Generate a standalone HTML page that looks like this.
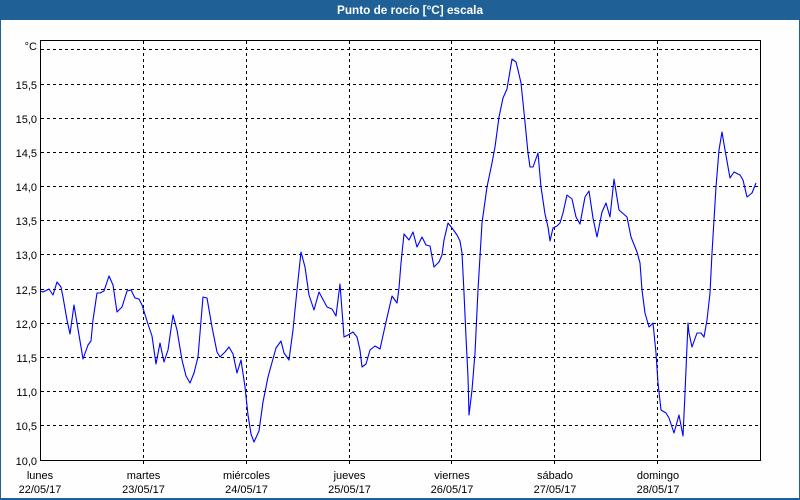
<!DOCTYPE html>
<html>
<head>
<meta charset="utf-8">
<style>
html,body{margin:0;padding:0;background:#fdfefd;}
svg{display:block;}
text{font-family:"Liberation Sans",sans-serif;}
</style>
</head>
<body>
<svg width="800" height="500" viewBox="0 0 800 500" xmlns="http://www.w3.org/2000/svg">
  <rect x="0" y="0" width="800" height="500" fill="#fdfefd"/>
  <!-- outer frame -->
  <rect x="0" y="0" width="800" height="20" fill="#1f6097"/>
  <rect x="0" y="0" width="1" height="500" fill="#1f6097"/>
  <rect x="799" y="0" width="1" height="500" fill="#1f6097"/>
  <rect x="0" y="498" width="800" height="2" fill="#1f6097"/>
  <text x="337" y="14" font-size="12" font-weight="bold" fill="#ffffff" textLength="146" lengthAdjust="spacingAndGlyphs">Punto de rocío [°C] escala</text>

  <!-- horizontal grid -->
  <g stroke="#000" stroke-width="1" stroke-dasharray="3,3" fill="none">
    <line x1="41" y1="49.5" x2="760" y2="49.5"/>
    <line x1="41" y1="84.5" x2="760" y2="84.5"/>
    <line x1="41" y1="118.5" x2="760" y2="118.5"/>
    <line x1="41" y1="152.5" x2="760" y2="152.5"/>
    <line x1="41" y1="186.5" x2="760" y2="186.5"/>
    <line x1="41" y1="220.5" x2="760" y2="220.5"/>
    <line x1="41" y1="254.5" x2="760" y2="254.5"/>
    <line x1="41" y1="289.5" x2="760" y2="289.5"/>
    <line x1="41" y1="323.5" x2="760" y2="323.5"/>
    <line x1="41" y1="357.5" x2="760" y2="357.5"/>
    <line x1="41" y1="391.5" x2="760" y2="391.5"/>
    <line x1="41" y1="425.5" x2="760" y2="425.5"/>
    <!-- vertical grid -->
    <line x1="143.5" y1="41" x2="143.5" y2="464"/>
    <line x1="246.5" y1="41" x2="246.5" y2="464"/>
    <line x1="349.5" y1="41" x2="349.5" y2="464"/>
    <line x1="451.5" y1="41" x2="451.5" y2="464"/>
    <line x1="554.5" y1="41" x2="554.5" y2="464"/>
    <line x1="657.5" y1="41" x2="657.5" y2="464"/>
  </g>

  <!-- plot box -->
  <rect x="40.5" y="40.5" width="720" height="420" fill="none" stroke="#000" stroke-width="1"/>

  <!-- y labels -->
  <g font-size="11" fill="#000" text-anchor="end">
    <text x="37" y="50">°C</text>
    <text x="37" y="89">15,5</text>
    <text x="37" y="123">15,0</text>
    <text x="37" y="157">14,5</text>
    <text x="37" y="191">14,0</text>
    <text x="37" y="225">13,5</text>
    <text x="37" y="259">13,0</text>
    <text x="37" y="294">12,5</text>
    <text x="37" y="328">12,0</text>
    <text x="37" y="362">11,5</text>
    <text x="37" y="396">11,0</text>
    <text x="37" y="430">10,5</text>
    <text x="37" y="465">10,0</text>
  </g>

  <!-- x labels -->
  <g font-size="11" fill="#000" text-anchor="middle">
    <text x="40" y="479">lunes</text><text x="40" y="493">22/05/17</text>
    <text x="143.5" y="479">martes</text><text x="143.5" y="493">23/05/17</text>
    <text x="246.5" y="479">miércoles</text><text x="246.5" y="493">24/05/17</text>
    <text x="349.5" y="479">jueves</text><text x="349.5" y="493">25/05/17</text>
    <text x="452" y="479">viernes</text><text x="452" y="493">26/05/17</text>
    <text x="555" y="479">sábado</text><text x="555" y="493">27/05/17</text>
    <text x="658" y="479">domingo</text><text x="658" y="493">28/05/17</text>
  </g>

  <!-- series -->
  <polyline fill="none" stroke="#0000ff" stroke-width="1.1" stroke-linejoin="round" points="
40,291 43,292 49,289 53,295 57,282 61,287 63,297 67,320 70,334 74,305 83,359 88,345 91,341 93,320 97,293 100,293 104,291 109,276 113,285 117,312 122,307 127,291 131,290 135,298 139,299 142,305 147,321 152,336 156,364 160,343 164,362 168,350 173,315 177,330 182,360 186,376 190,383 194,373 198,357 203,297 207,298 212,327 217,352 220,357
225,352 229,347 233,354 237,373 241,360 245,387 248,415 251,434 254,442 259,431 263,402 268,377 276,348 281,341 284,353 289,360 293,330 297,290 301,252 305,267 309,295 314,310 319,292 327,307 332,309 336,316 340,284 344,337 348,335 353,332 357,337 360,350 362,367 366,364 370,350 375,346 380,349 386,322 392,296 397,303
399,288 401,263 402,253 404,234 409,240 413,232 417,247 422,237 426,245 430,246 434,267 439,262 442,255 444,240 448,223 452,228 457,235 460,241 462,253 464,293 466,337 468,377 469,415 472,390 475,353 478,290 482,223 487,187 492,163 495,147 499,117 503,98 507,89 512,59 516,62 518,70 521,83 525,122 528,153 530,167 533,167 538,153 541,187 545,214
548,227 550,241 553,228 557,226 560,223 563,213 567,195 572,199 576,217 580,224 585,197 589,191 593,218 597,237 602,212 606,203 610,217 614,179 619,210 627,217 631,237 637,252 640,263 642,290 645,313 649,327 653,323 656,353 658,383 661,410 666,413 669,418 674,433 679,415 683,436 685,393 688,323 689,333 692,347 697,333 701,333 704,337 707,320 710,293 712,253 716,187 719,150 722,132 725,150 730,178 734,172 740,175 743,180 747,197 752,193 756,183"/>
</svg>
</body>
</html>
